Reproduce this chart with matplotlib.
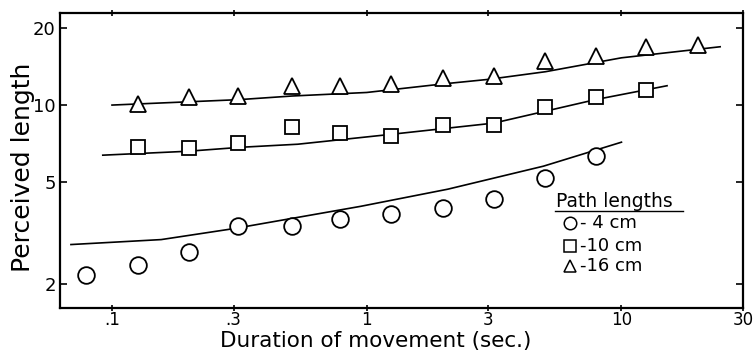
import matplotlib
matplotlib.use("Agg")
import matplotlib.pyplot as plt
from matplotlib.lines import Line2D

# ---- data ----
dur_4 = [0.079, 0.126, 0.200, 0.312, 0.508, 0.784, 1.24, 1.99, 3.15, 5.03, 7.91]
len_4 = [2.17, 2.38, 2.67, 3.38, 3.38, 3.60, 3.74, 3.95, 4.28, 5.17, 6.31]

dur_10 = [0.126, 0.200, 0.312, 0.508, 0.784, 1.24, 1.99, 3.15, 5.03, 7.91, 12.5]
len_10 = [6.84, 6.78, 7.10, 8.20, 7.77, 7.56, 8.35, 8.35, 9.80, 10.75, 11.45]

dur_16 = [0.126, 0.200, 0.312, 0.508, 0.784, 1.24, 1.99, 3.15, 5.03, 7.91, 12.5, 20.0]
len_16 = [10.1, 10.75, 10.85, 11.9, 11.9, 12.1, 12.8, 13.0, 14.9, 15.6, 16.9, 17.2]

# fitted curves (sampled along the drawn lines)
fit4_x = [0.069, 0.156, 0.301, 0.947, 2.08, 4.94, 10.0]
fit4_y = [2.85, 2.98, 3.29, 4.02, 4.69, 5.77, 7.16]
fit10_x = [0.092, 0.199, 0.321, 0.536, 1.166, 3.15, 7.9, 15.1]
fit10_y = [6.37, 6.60, 6.84, 7.03, 7.63, 8.5, 10.5, 11.9]
fit16_x = [0.10, 0.315, 0.51, 1.0, 2.0, 3.0, 5.03, 10.0, 24.4]
fit16_y = [10.0, 10.5, 10.85, 11.2, 12.1, 12.6, 13.5, 15.3, 16.9]

xticks = [0.1, 0.3, 1, 3, 10, 30]
xtick_labels = [".1", ".3", "1", "3", "10", "30"]
yticks = [2, 5, 10, 20]
ytick_labels = ["2", "5", "10", "20"]

legend_title = "Path lengths"
legend_labels = ["- 4 cm", "-10 cm", "-16 cm"]

W, H = 755, 352


def fx(px):
    return px / W


def fy(py):
    return 1 - py / H


# ---- figure ----
fig = plt.figure(figsize=(7.55, 3.52), dpi=100)
ax = fig.add_axes([fx(60), fy(308), (743 - 60) / W, (308 - 13) / H])
ax.set_xscale("log")
ax.set_yscale("log")
ax.set_xlim(0.0625, 30)
ax.set_ylim(1.61, 22.9)

lw = 1.2
ax.plot(fit4_x, fit4_y, color="black", lw=lw)
ax.plot(fit10_x, fit10_y, color="black", lw=lw)
ax.plot(fit16_x, fit16_y, color="black", lw=lw)

mk = dict(linestyle="none", markerfacecolor="white", markeredgecolor="black",
          markeredgewidth=1.3, zorder=3)
ax.plot(dur_4, len_4, marker="o", markersize=12, **mk)
ax.plot(dur_10, len_10, marker="s", markersize=10, **mk)
ax.plot(dur_16, len_16, marker="^", markersize=12, **mk)

ax.minorticks_off()
ax.set_xticks(xticks)
ax.set_xticklabels(xtick_labels)
ax.set_yticks(yticks)
ax.set_yticklabels(ytick_labels)
ax.tick_params(axis="x", which="both", direction="inout", length=4, width=1.2,
               labelsize=12, pad=0, top=True)
ax.tick_params(axis="y", which="both", direction="in", length=5, width=1.2,
               labelsize=13, pad=3, right=True)
for s in ax.spines.values():
    s.set_linewidth(1.6)

# axis titles placed to match the reference
fig.text(fx(376), fy(347), "Duration of movement (sec.)", fontsize=15.5,
         ha="center", va="baseline")
fig.text(fx(23), fy(167), "Perceived length", fontsize=18, rotation=90,
         ha="center", va="center")

# legend drawn as text + markers
fig.text(fx(556), fy(207), legend_title, fontsize=13.5, ha="left", va="baseline")
fig.add_artist(Line2D([fx(555), fx(683)], [fy(211), fy(211)],
                      transform=fig.transFigure, color="black", lw=1.0))
entry_y = [223, 246, 266]
markers = ["o", "s", "^"]
for yy, m, lab in zip(entry_y, markers, legend_labels):
    fig.add_artist(Line2D([fx(570)], [fy(yy)], transform=fig.transFigure,
                          marker=m, markersize=9 if m != "s" else 8,
                          markerfacecolor="white", markeredgecolor="black",
                          markeredgewidth=1.1, linestyle="none"))
    fig.text(fx(580), fy(yy), lab, fontsize=13, ha="left", va="center")

fig.savefig("out.png", dpi=100)
